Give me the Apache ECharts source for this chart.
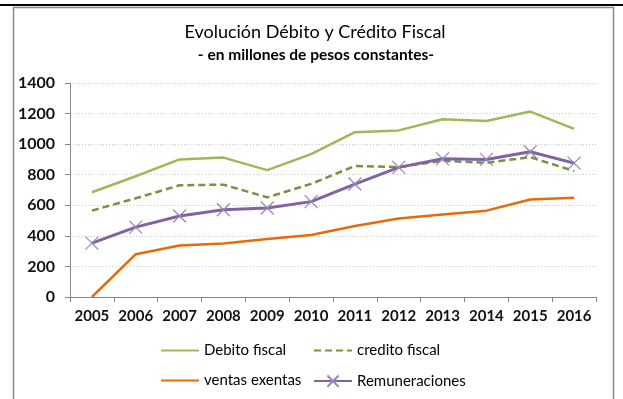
<!DOCTYPE html>
<html>
<head>
<meta charset="utf-8">
<script src="https://cdn.jsdelivr.net/npm/echarts@6/dist/echarts.min.js"></script>
<style>
  html, body { margin: 0; padding: 0; background: #ffffff; }
  #chart { width: 623px; height: 399px; }
</style>
</head>
<body>
<div id="chart"></div>
<script>
// Years on the category axis
const years = ['2005', '2006', '2007', '2008', '2009', '2010', '2011', '2012', '2013', '2014', '2015', '2016'];

// Values in millions of constant pesos
const debitoFiscal   = [685, 790, 900, 912, 830, 935, 1078, 1090, 1163, 1152, 1213, 1100];
const creditoFiscal  = [565, 646, 731, 735, 652, 740, 857, 850, 891, 878, 915, 824];
const ventasExentas  = [0, 280, 337, 350, 380, 406, 465, 513, 539, 565, 638, 650];
const remuneraciones = [352, 457, 530, 571, 582, 624, 739, 848, 904, 900, 950, 876];

// Y axis scale
const yMin = 0, yMax = 1400, yStep = 200;

const FONT = 'Lato';
const crossPath = 'path://M0,0 L10,10 M10,0 L0,10';

const chart = echarts.init(document.getElementById('chart'), null, { renderer: 'canvas' });

// One legend per entry so the two columns line up; plain lines hide the marker
function legendAt(name, hideMarker, left, top) {
  const lg = {
    data: [name],
    left: left, top: top,
    orient: 'horizontal',
    itemWidth: 38, itemHeight: 14,
    itemGap: 0,
    padding: 0,
    textStyle: { fontFamily: FONT, fontSize: 15, color: '#000' },
    selectedMode: false
  };
  if (hideMarker) lg.itemStyle = { opacity: 0 };
  return lg;
}

chart.setOption({
  animation: false,
  backgroundColor: '#ffffff',
  graphic: [
    { type: 'rect', shape: { x: 0, y: 4, width: 623, height: 2 }, style: { fill: '#000' }, silent: true },
    { type: 'rect', shape: { x: 13.5, y: 7.5, width: 600, height: 400 }, style: { fill: 'none', stroke: '#8a8a8a', lineWidth: 1.5 }, silent: true }
  ],
  title: [
    { text: 'Evolución Débito y Crédito Fiscal', left: 310, textAlign: 'center', top: 18,
      textStyle: { fontFamily: FONT, fontSize: 18, fontWeight: 'normal', color: '#000' } },
    { text: '- en millones de pesos constantes-', left: 311, textAlign: 'center', top: 42,
      textStyle: { fontFamily: FONT, fontSize: 15.5, fontWeight: 'bold', color: '#000' } }
  ],
  legend: [
    legendAt('Debito fiscal', true, 160, 343),
    legendAt('credito fiscal', true, 313, 343),
    legendAt('ventas exentas', true, 160, 373),
    legendAt('Remuneraciones', false, 313, 373)
  ],
  grid: { left: 70, right: 27, top: 83, bottom: 102, containLabel: false },
  xAxis: {
    type: 'category',
    data: years,
    boundaryGap: true,
    axisLine: { lineStyle: { color: '#868686', width: 1 } },
    axisTick: { show: true, interval: 0, alignWithLabel: false, length: 5, lineStyle: { color: '#868686' } },
    axisLabel: { interval: 0, fontFamily: FONT, fontSize: 15, fontWeight: 'bold', color: '#111', margin: 12 },
    splitLine: { show: false }
  },
  yAxis: {
    type: 'value',
    min: yMin, max: yMax, interval: yStep,
    axisLine: { show: true, lineStyle: { color: '#868686', width: 1 } },
    axisTick: { show: true, length: 5, lineStyle: { color: '#868686' } },
    axisLabel: { fontFamily: FONT, fontSize: 16, fontWeight: 'bold', color: '#111', margin: 15,
      formatter: (v) => String(v) },
    splitLine: { show: true, lineStyle: { color: '#c8c8c8', type: [1, 2], width: 1 } }
  },
  series: [
    {
      name: 'Debito fiscal', type: 'line', data: debitoFiscal,
      symbol: 'none', lineStyle: { color: '#9BBB59', width: 2.5 }, itemStyle: { color: '#9BBB59' }
    },
    {
      name: 'credito fiscal', type: 'line', data: creditoFiscal,
      symbol: 'none', lineStyle: { color: '#77933C', width: 2.5, type: [7, 4] }, itemStyle: { color: '#77933C' }
    },
    {
      name: 'ventas exentas', type: 'line', data: ventasExentas,
      symbol: 'none', lineStyle: { color: '#E46C0A', width: 2.5 }, itemStyle: { color: '#E46C0A' }
    },
    {
      name: 'Remuneraciones', type: 'line', data: remuneraciones,
      symbol: crossPath, symbolSize: 13, showSymbol: true,
      lineStyle: { color: '#8064A2', width: 3 },
      itemStyle: { color: 'none', borderColor: '#9985bb', borderWidth: 1.2 }
    }
  ]
});
</script>
</body>
</html>
